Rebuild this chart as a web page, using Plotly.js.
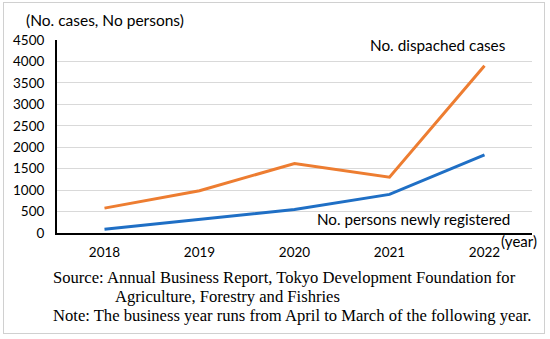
<!DOCTYPE html>
<html>
<head>
<meta charset="utf-8">
<script src="https://cdn.plot.ly/plotly-3.0.1.min.js"></script>
<style>
html,body{margin:0;padding:0;background:#fff;}
#wrap{position:relative;width:550px;height:339px;}
#chart{width:550px;height:339px;}
#frame{position:absolute;left:3px;top:2px;width:540px;height:330px;border:1px solid #d0d0d0;pointer-events:none;}
</style>
</head>
<body>
<div id="wrap"><div id="chart"></div><div id="frame"></div></div>
<script>
const years = ["2018", "2019", "2020", "2021", "2022"];
const dispatchedCases = [580, 985, 1620, 1300, 3900];
const newlyRegistered = [85, 320, 550, 900, 1820];
const yTicks = [0, 500, 1000, 1500, 2000, 2500, 3000, 3500, 4000, 4500];

const sans = "Lato, 'Open Sans', sans-serif";
const serif = "'Liberation Serif', 'Times New Roman', serif";

const traces = [
  {x: years, y: dispatchedCases, type: "scatter", mode: "lines",
   line: {color: "#ED7D31", width: 3}, name: "No. dispached cases"},
  {x: years, y: newlyRegistered, type: "scatter", mode: "lines",
   line: {color: "#1F6FC5", width: 3}, name: "No. persons newly registered"}
];

const layout = {
  width: 550, height: 339,
  margin: {l: 57, r: 18, t: 40, b: 106},
  paper_bgcolor: "#fff", plot_bgcolor: "#fff",
  showlegend: false,
  font: {family: sans, size: 13, color: "#000"},
  xaxis: {
    type: "category", range: [-0.5, 4.5],
    showgrid: false, zeroline: false,
    showline: true, linecolor: "#000", linewidth: 2,
    ticks: "", ticklabelstandoff: 6,
    tickfont: {family: sans, size: 13.5, color: "#000"}
  },
  yaxis: {
    range: [0, 4500], tickvals: yTicks, ticktext: yTicks.map(String),
    showgrid: true, gridcolor: "#d9d9d9", gridwidth: 1,
    zeroline: false,
    showline: true, linecolor: "#000", linewidth: 2,
    ticks: "", ticklabelstandoff: 8,
    tickfont: {family: sans, size: 13.5, color: "#000"}
  },
  annotations: [
    {text: "(No. cases, No persons)", xref: "paper", yref: "paper",
     x: -0.0695, y: 1.104, xanchor: "left", yanchor: "middle", showarrow: false,
     font: {family: sans, size: 15.5, color: "#000"}},
    {text: "No. dispached cases", xref: "paper", yref: "paper",
     x: 0.949, y: 0.974, xanchor: "right", yanchor: "middle", showarrow: false,
     font: {family: sans, size: 15.3, color: "#000"}},
    {text: "No. persons newly registered", xref: "paper", yref: "paper",
     x: 0.958, y: 0.0725, xanchor: "right", yanchor: "middle", showarrow: false,
     font: {family: sans, size: 15.2, color: "#000"}},
    {text: "(year)", xref: "paper", yref: "paper",
     x: 1.015, y: -0.041, xanchor: "right", yanchor: "middle", showarrow: false,
     font: {family: sans, size: 15, color: "#000"}},
    {text: "Source: Annual Business Report, Tokyo Development Foundation for", xref: "paper", yref: "paper",
     x: -0.0126, y: -0.232, xanchor: "left", yanchor: "middle", showarrow: false,
     font: {family: serif, size: 16.6, color: "#000"}},
    {text: "Agriculture, Forestry and Fishries", xref: "paper", yref: "paper",
     x: 0.118, y: -0.328, xanchor: "left", yanchor: "middle", showarrow: false,
     font: {family: serif, size: 16.6, color: "#000"}},
    {text: "Note: The business year runs from April to March of the following year.", xref: "paper", yref: "paper",
     x: -0.0126, y: -0.425, xanchor: "left", yanchor: "middle", showarrow: false,
     font: {family: serif, size: 16.6, color: "#000"}}
  ]
};

Plotly.newPlot("chart", traces, layout, {displayModeBar: false, staticPlot: true});
</script>
</body>
</html>
